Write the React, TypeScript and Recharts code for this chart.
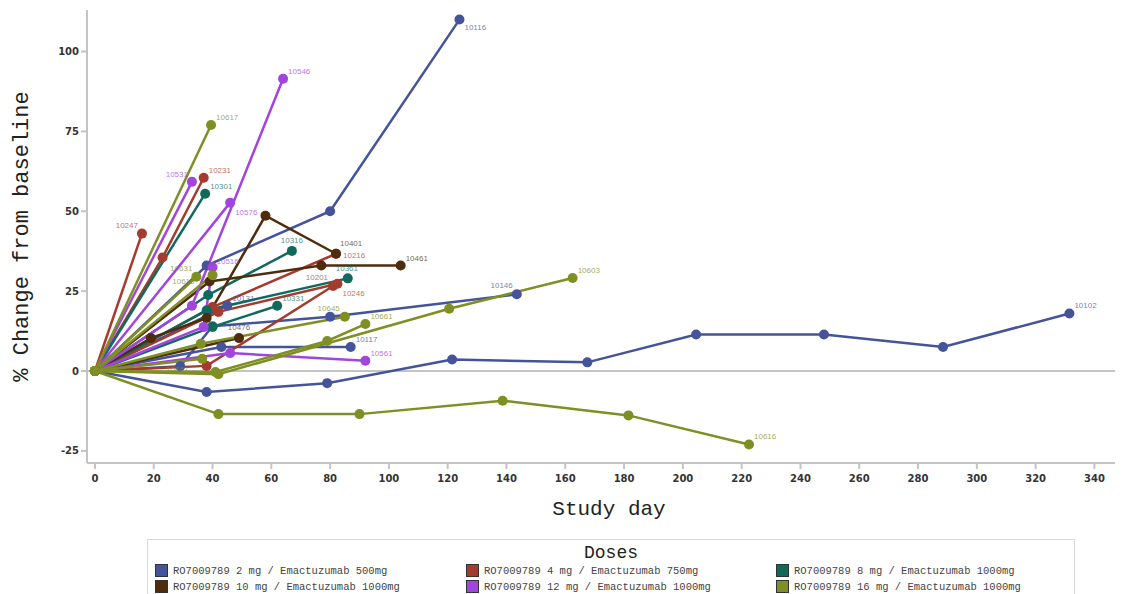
import React from 'react';
import { LineChart, Line, XAxis, YAxis, ReferenceLine, LabelList } from 'recharts';

// study day / % change from baseline, one array per subject
const s10116 = [[0, 0], [38, 33], [80, 50], [124, 110]];
const s10102 = [[0, 0], [38, -6.6], [79, -3.8], [121.5, 3.6], [167.5, 2.7], [204.5, 11.4], [248, 11.4], [288.5, 7.5], [331.5, 18]];
const s10146 = [[0, 0], [29, 1.5], [40, 14], [80, 17], [143.5, 24]];
const s10131 = [[0, 0], [45, 20.5]];
const s10117 = [[0, 0], [43, 7.5], [87, 7.5]];

const s10247 = [[0, 0], [16, 43]];
const s10231 = [[0, 0], [23, 35.5], [37, 60.5]];
const s10216 = [[0, 0], [40, 20], [82, 36.7]];
const s10201 = [[0, 0], [38, 1.6], [81, 26.6]];
const s10246 = [[0, 0], [42, 18.5], [82.5, 27.3]];

const s10301 = [[0, 0], [37.5, 55.5]];
const s10316 = [[0, 0], [38.5, 23.8], [67, 37.6]];
const s10361 = [[0, 0], [38, 19], [86, 29]];
const s10331 = [[0, 0], [40, 13.8], [62, 20.4]];

const s10401 = [[0, 0], [19, 10.3], [38, 16.6], [58, 48.6], [82, 36.7]];
const s10461 = [[0, 0], [39, 28], [77, 33], [104, 33]];
const s10476 = [[0, 0], [49, 10.3]];

const s10546 = [[0, 0], [33, 20.4], [64, 91.5]];
const s10576 = [[0, 0], [46, 52.7]];
const s10531 = [[0, 0], [33, 59.2]];
const s10516 = [[0, 0], [37, 13.8], [40, 32.5]];
const s10561 = [[0, 0], [46, 5.6], [92, 3.2]];

const s10617 = [[0, 0], [39.5, 77]];
const s10616 = [[0, 0], [42, -13.5], [90, -13.5], [138.7, -9.3], [181.5, -13.9], [222.5, -23]];
const s10603 = [[0, 0], [42, -1], [120.5, 19.5], [162.5, 29.1]];
const s10661 = [[0, 0], [41, -0.3], [79, 9.4], [92, 14.7]];
const s10645 = [[0, 0], [36, 8.5], [85, 17]];
const s10647 = [[0, 0], [36.5, 3.8]];
const s10631 = [[0, 0], [34.5, 29.5]];
const s10615 = [[0, 0], [40, 30]];

const doseLabels = [
    'RO7009789 2 mg / Emactuzumab 500mg',
    'RO7009789 4 mg / Emactuzumab 750mg',
    'RO7009789 8 mg / Emactuzumab 1000mg',
    'RO7009789 10 mg / Emactuzumab 1000mg',
    'RO7009789 12 mg / Emactuzumab 1000mg',
    'RO7009789 16 mg / Emactuzumab 1000mg',
];
const doseColors = ['#44539A', '#A53B2E', '#0F6A5C', '#4F2C0C', '#A145DE', '#7F8F23'];

const doseSubjects: [string, number[][]][][] = [
    [['10116', s10116], ['10102', s10102], ['10146', s10146], ['10131', s10131], ['10117', s10117]],
    [['10247', s10247], ['10231', s10231], ['10216', s10216], ['10201', s10201], ['10246', s10246]],
    [['10301', s10301], ['10316', s10316], ['10361', s10361], ['10331', s10331]],
    [['10401', s10401], ['10461', s10461], ['10476', s10476]],
    [['10546', s10546], ['10576', s10576], ['10531', s10531], ['10516', s10516], ['10561', s10561]],
    [['10617', s10617], ['10616', s10616], ['10603', s10603], ['10661', s10661], ['10645', s10645], ['10647', s10647], ['10631', s10631], ['10615', s10615]],
];

const xTicks = [0, 20, 40, 60, 80, 100, 120, 140, 160, 180, 200, 220, 240, 260, 280, 300, 320, 340];
const yTicks = [-25, 0, 25, 50, 75, 100];

// where each end label sits relative to its last point (default: up and right)
const labelPlace: Record<string, [number, number, 'start' | 'middle' | 'end']> = {
    '10116': [5, 10, 'start'],
    '10247': [-4, -6, 'end'],
    '10531': [-4, -5, 'end'],
    '10576': [5, 12, 'start'],
    '10146': [-4, -6, 'end'],
    '10216': [7, 4, 'start'],
    '10401': [4, -8, 'start'],
    '10201': [-5, -6, 'end'],
    '10246': [5, 12, 'start'],
    '10361': [-12, -7, 'start'],
    '10316': [0, -8, 'middle'],
    '10476': [0, -8, 'middle'],
    '10645': [-5, -6, 'end'],
    '10647': [-14, 13, 'end'],
    '10631': [-4, -6, 'end'],
    '10615': [-18, 9, 'end'],
    '10516': [4, -3, 'start'],
};

const MONO = '"Liberation Mono", "DejaVu Sans Mono", monospace';
const TICK_FONT = { fontSize: 10, fontWeight: 'bold', fill: '#333', fontFamily: '"DejaVu Sans", sans-serif' };

const series = doseSubjects.flatMap((group, g) =>
    group.map(([id, pts]) => ({
        id,
        color: doseColors[g],
        data: pts.map(([x, y], i) => ({ x, y, lab: i === pts.length - 1 ? id : '' })),
    }))
);

export default function App() {
    return (
        <div style={{ position: 'absolute', left: 0, top: 0, width: 1126, height: 594, background: '#fff', overflow: 'hidden' }}>
            <LineChart width={1126} height={540} margin={{ top: 10, right: 11, bottom: 0, left: 0 }}>
                <XAxis
                    type="number"
                    dataKey="x"
                    domain={[-2.7, 347]}
                    allowDataOverflow
                    ticks={xTicks}
                    height={77}
                    stroke="#c4c4c4"
                    strokeWidth={2}
                    tickSize={6}
                    tickMargin={6}
                    tick={TICK_FONT}
                    label={{ value: 'Study day', position: 'insideBottom', offset: 25, dx: 8, style: { fontFamily: MONO, fontSize: 21, fill: '#222' } }}
                />
                <YAxis
                    type="number"
                    dataKey="y"
                    domain={[-28.8, 113]}
                    allowDataOverflow
                    ticks={yTicks}
                    width={87}
                    stroke="#c4c4c4"
                    strokeWidth={2}
                    tickSize={6}
                    tick={TICK_FONT}
                    label={{ value: '% Change from baseline', angle: -90, position: 'insideLeft', offset: 20, dy: 0, style: { fontFamily: MONO, fontSize: 22, fill: '#222', textAnchor: 'middle' } }}
                />
                <ReferenceLine y={0} stroke="#c4c4c4" strokeWidth={2} />
                {series.map((s) => (
                    <Line
                        key={s.id}
                        data={s.data}
                        dataKey="y"
                        stroke={s.color}
                        strokeWidth={2.5}
                        dot={{ r: 5, fill: s.color, stroke: s.color, strokeWidth: 0 }}
                        activeDot={false}
                        isAnimationActive={false}
                    >
                        <LabelList
                            dataKey="lab"
                            content={(p: any) => {
                                if (!p.value) return null;
                                const [dx, dy, anchor] = labelPlace[s.id] || [5, -5, 'start'];
                                return (
                                    <text x={p.x + dx} y={p.y + dy} textAnchor={anchor} fontSize={8} fill={s.color} fillOpacity={0.75} fontFamily="Arial, sans-serif">
                                        {p.value}
                                    </text>
                                );
                            }}
                        />
                    </Line>
                ))}
            </LineChart>
            <div
                style={{
                    position: 'absolute',
                    left: 147,
                    top: 539,
                    width: 926,
                    height: 70,
                    border: '1px solid #d8d8d8',
                    fontFamily: MONO,
                    color: '#333',
                }}
            >
                <div style={{ textAlign: 'center', fontSize: 18, lineHeight: '22px', marginTop: 2, color: '#222' }}>Doses</div>
                <div style={{ display: 'grid', gridTemplateColumns: '311px 310px 305px', paddingLeft: 7, rowGap: 3 }}>
                    {doseLabels.map((label, i) => (
                        <div key={label} style={{ display: 'flex', alignItems: 'center', fontSize: 10.5, lineHeight: '12px', whiteSpace: 'nowrap', color: '#444' }}>
                            <span style={{ display: 'inline-block', width: 11, height: 11, background: doseColors[i], border: '1px solid #333', marginRight: 5 }} />
                            {label}
                        </div>
                    ))}
                </div>
            </div>
        </div>
    );
}
